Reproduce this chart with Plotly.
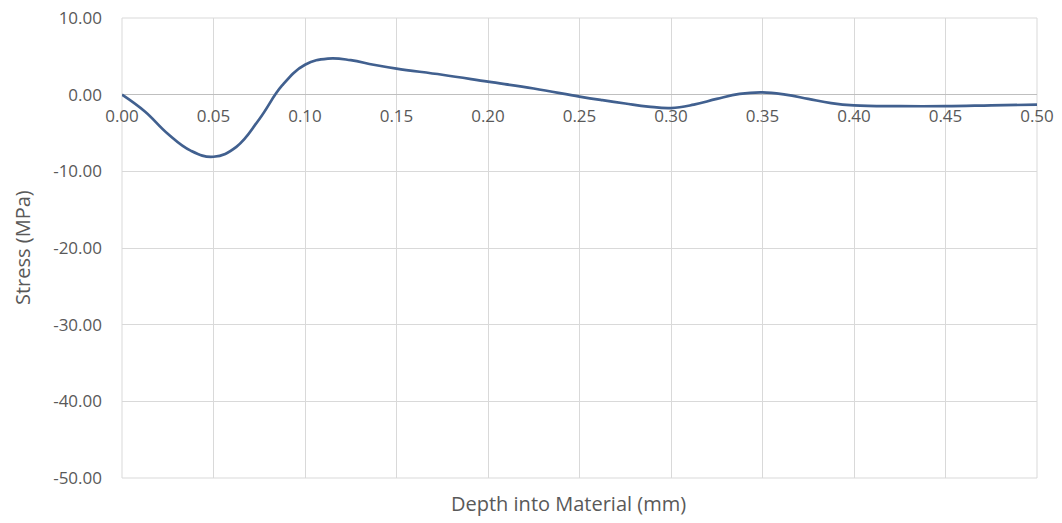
import plotly.graph_objects as go

depth = [0.0, 0.0125, 0.025, 0.0375, 0.05, 0.0625, 0.075, 0.0875, 0.1, 0.1125,
         0.125, 0.1375, 0.15, 0.175, 0.2, 0.225, 0.25, 0.2625, 0.275, 0.2875,
         0.3, 0.3125, 0.325, 0.3375, 0.35, 0.3625, 0.375, 0.3875, 0.4,
         0.425, 0.45, 0.475, 0.5]
stress = [0.0, -2.2, -5.1, -7.3, -8.1, -6.8, -3.2, 1.2, 3.9, 4.7,
          4.5, 3.9, 3.4, 2.6, 1.7, 0.8, -0.25, -0.72, -1.15, -1.55,
          -1.75, -1.3, -0.55, 0.1, 0.3, 0.0, -0.55, -1.1, -1.4,
          -1.5, -1.5, -1.4, -1.3]

x_ticks = [0.0, 0.05, 0.10, 0.15, 0.20, 0.25, 0.30, 0.35, 0.40, 0.45, 0.50]
x_tick_labels = ["0.00", "0.05", "0.10", "0.15", "0.20", "0.25",
                 "0.30", "0.35", "0.40", "0.45", "0.50"]
y_ticks = [10, 0, -10, -20, -30, -40, -50]
y_tick_labels = ["10.00", "0.00", "-10.00", "-20.00", "-30.00", "-40.00", "-50.00"]

font_family = "Open Sans"
tick_color = "#595959"
grid_color = "#D9D9D9"

fig = go.Figure()
fig.add_trace(go.Scatter(
    x=depth, y=stress, mode="lines",
    line=dict(color="#41608F", width=2.7, shape="spline", smoothing=1.2),
    hoverinfo="x+y", showlegend=False,
))

fig.update_layout(
    width=1062, height=523,
    margin=dict(l=122, r=25, t=18, b=45),
    paper_bgcolor="white", plot_bgcolor="white",
    font=dict(family=font_family, color=tick_color, size=17),
    xaxis=dict(
        range=[0, 0.5], tickvals=x_ticks, ticktext=x_tick_labels,
        showgrid=True, gridcolor=grid_color, gridwidth=1,
        zeroline=False, showline=False, ticks="",
        anchor="free", position=(0 - (-50)) / (10 - (-50)),
        ticklabelstandoff=9, automargin=False,
        tickfont=dict(size=17, color=tick_color),
    ),
    yaxis=dict(
        range=[-50, 10], tickvals=y_ticks, ticktext=y_tick_labels,
        showgrid=True, gridcolor=grid_color, gridwidth=1,
        zeroline=True, zerolinecolor="#BFBFBF", zerolinewidth=1,
        showline=False, ticks="", ticklabelstandoff=19, automargin=False,
        tickfont=dict(size=17, color=tick_color),
    ),
    shapes=[dict(
        type="rect", xref="paper", yref="paper", x0=0, x1=1, y0=0, y1=1,
        line=dict(color=grid_color, width=1), layer="below",
    )],
    annotations=[
        dict(
            text="Depth into Material (mm)", xref="paper", yref="paper",
            x=0.5, y=0, xshift=-11, yshift=-25, xanchor="center", yanchor="middle",
            showarrow=False, font=dict(size=20, color=tick_color, family=font_family),
        ),
        dict(
            text="Stress (MPa)", xref="paper", yref="paper", textangle=-90,
            x=0, y=0.5, xshift=-100, xanchor="center", yanchor="middle",
            showarrow=False, font=dict(size=20, color=tick_color, family=font_family),
        ),
    ],
)

fig.write_html("out.html")
